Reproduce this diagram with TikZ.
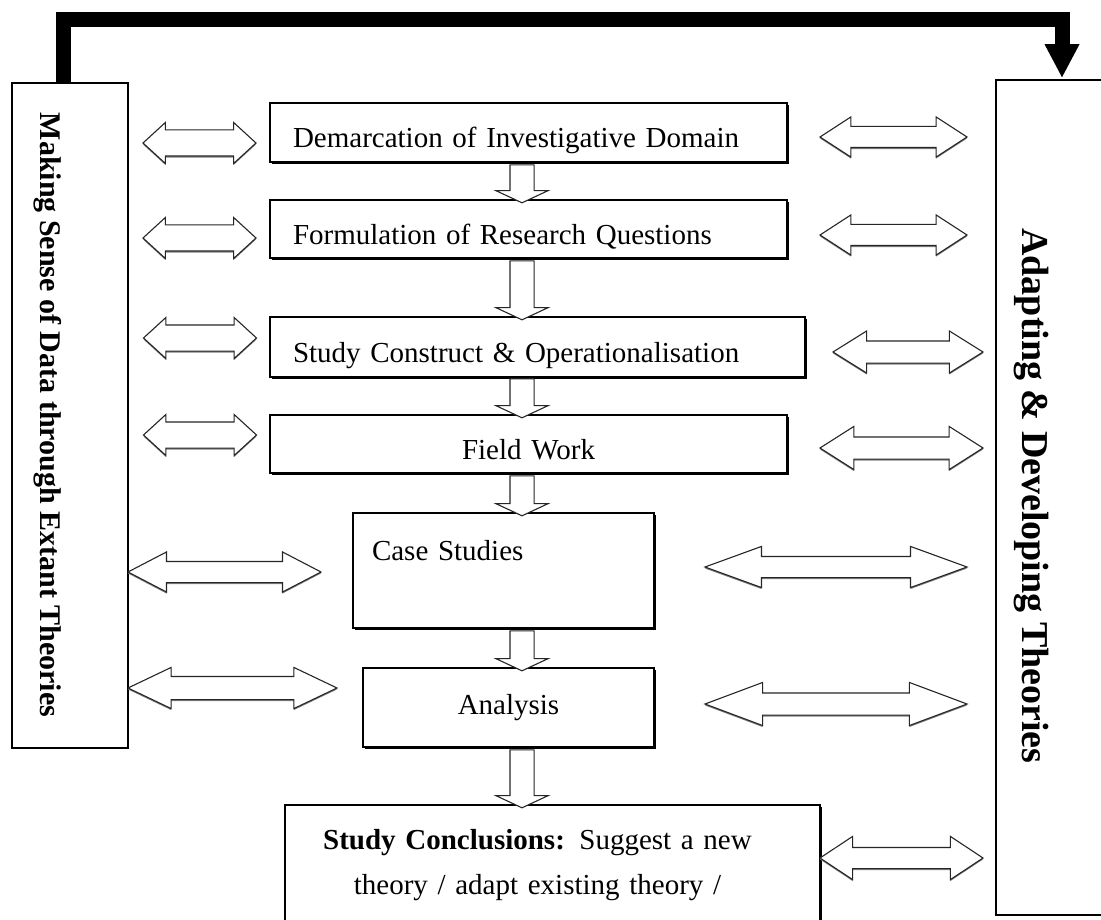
\documentclass[tikz,border=0pt]{standalone}
\usepackage{fontspec}
\setmainfont{Liberation Serif}
\usetikzlibrary{shapes.arrows,arrows.meta,calc,shadows}
\tikzset{
  % Stage box
  SB/.style={rectangle,draw,line width=1.3pt,fill=white,inner ysep=0pt,
             drop shadow={shadow xshift=1.6pt,shadow yshift=-1.6pt,fill=black,opacity=1},
             font=\fontsize{29}{45}\selectfont},
  % Side box
  SD/.style={rectangle,draw,fill=white,inner sep=0pt,
             drop shadow={shadow xshift=1.2pt,shadow yshift=-1.2pt,fill=black,opacity=1}},
  % Hollow double arrow (shaft = 2 x inner ysep)
  DA/.style={double arrow,draw=black!85,line width=1.1pt,fill=white,inner xsep=0pt,
             drop shadow={shadow xshift=0pt,shadow yshift=-1.5pt,fill=gray,opacity=1}},
  DL/.style={DA,minimum height=113pt,inner ysep=12.5pt,
             double arrow head extend=7.5pt,double arrow tip angle=85},
  % Hollow down arrow
  DN/.style={single arrow,rotate=-90,draw=black!85,line width=1.1pt,fill=white,
             inner xsep=0pt,inner ysep=11.5pt,
             single arrow head extend=14pt,single arrow tip angle=130},
  % Feedback arrow
  fb/.style={line width=15pt,-{Triangle[width=35pt,length=33pt,line width=0pt]},shorten >=2pt},
  % Side labels
  LS/.style={rotate=-90,font=\fontsize{30}{36}\selectfont\bfseries},
  RS/.style={rotate=-90,font=\fontsize{38}{44}\selectfont\bfseries}
}
\begin{document}
\begin{tikzpicture}[x=1pt,y=-1pt]
  \useasboundingbox (0,0) rectangle (1101,920);
  \clip (0,0) rectangle (1101,920);

  % --- side boxes ---
  \node[SD,line width=2.7pt,minimum width=116pt,minimum height=665pt] (L) at (70,415.5) {};
  \node[SD,line width=1.5pt,minimum width=132pt,minimum height=835pt] (R) at (1062,497.5) {};
  \node[LS] (Ltxt) at (48,415) {Making Sense of Data through Extant Theories};
  \node[RS] (Rtxt) at (1031,496) {Adapting \& Developing Theories};

  % --- stages ---
  \node[SB,inner xsep=23pt,text width=471pt,align=left,minimum height=59pt,
        text height=37pt,text depth=6pt] (dem) at (528.5,132.5) {Demarcation of Investigative Domain};
  \node[SB,inner xsep=23pt,text width=471pt,align=left,minimum height=58pt,
        text height=37pt,text depth=6pt] (form) at (528.5,229) {Formulation of Research Questions};
  \node[SB,inner xsep=23pt,text width=489pt,align=left,minimum height=60pt,
        text height=37pt,text depth=6pt] (cons) at (537.5,347) {Study Construct \& Operationalisation};
  \node[SB,inner xsep=23pt,text width=471pt,align=center,minimum height=58pt,
        text height=37pt,text depth=6pt] (field) at (528.5,444) {Field Work};
  \node[SB,inner xsep=19pt,text width=263pt,align=left,minimum height=115pt,
        text height=20pt,text depth=41pt] (case) at (503.5,570.5) {Case Studies};
  \node[SB,inner xsep=0pt,minimum width=291pt,minimum height=79pt] (anal) at (508.5,707.5) {Analysis};
  % text sits a little left of the box centre
  \node[SB,inner xsep=20pt,text width=495pt,align=center,minimum height=121pt] (concl) at (552.5,865.5)
        {\textbf{Study Conclusions:} Suggest a new\rule{30pt}{0pt}\\ theory / adapt existing theory /\rule{30pt}{0pt}};

  % --- flow between stages ---
  \node[DN,minimum height=38pt] (d1) at (522,181) {};
  \node[DN,minimum height=59pt] (d2) at (522,287.5) {};
  \node[DN,minimum height=39pt] (d3) at (522,395.5) {};
  \node[DN,minimum height=40pt] (d4) at (522,493) {};
  \node[DN,minimum height=40pt] (d5) at (522,648) {};
  \node[DN,minimum height=58pt] (d6) at (522,776) {};

  % --- links to extant theories (left) ---
  \node[DL] (l1) at (199.5,143) {};
  \node[DL] (l2) at (199.5,238) {};
  \node[DL] (l3) at (200,338) {};
  \node[DL] (l4) at (200,435) {};
  \node[DA,minimum height=193pt,inner ysep=10pt,double arrow head extend=9.5pt,
        double arrow tip angle=55] (l5) at (224.5,572) {};
  \node[DA,minimum height=209pt,inner ysep=11pt,double arrow head extend=9pt,
        double arrow tip angle=51] (l6) at (232.5,688) {};

  % --- links to adapted theories (right) ---
  \node[DA,minimum height=147pt,inner ysep=10pt,double arrow head extend=9.5pt,
        double arrow tip angle=66] (r1) at (893.5,137) {};
  \node[DA,minimum height=147pt,inner ysep=10pt,double arrow head extend=9.5pt,
        double arrow tip angle=66] (r2) at (893.5,235) {};
  \node[DA,minimum height=150pt,inner ysep=10.5pt,double arrow head extend=10pt,
        double arrow tip angle=64] (r3) at (908,352) {};
  \node[DA,minimum height=163pt,inner ysep=10.5pt,double arrow head extend=10.5pt,
        double arrow tip angle=65] (r4) at (901.5,448) {};
  \node[DA,minimum height=262pt,inner ysep=10pt,double arrow head extend=10pt,
        double arrow tip angle=40] (r5) at (836,567) {};
  \node[DA,minimum height=262pt,inner ysep=10.5pt,double arrow head extend=10.5pt,
        double arrow tip angle=41] (r6) at (836,704) {};
  \node[DA,minimum height=163pt,inner ysep=10pt,double arrow head extend=11pt,
        double arrow tip angle=67] (r7) at (901.5,858) {};

  % feedback from left to right
  \draw[fb] ($(L.north)+(-7,0)$) -- ++(0,-62) -| (R.north);
\end{tikzpicture}
\end{document}
